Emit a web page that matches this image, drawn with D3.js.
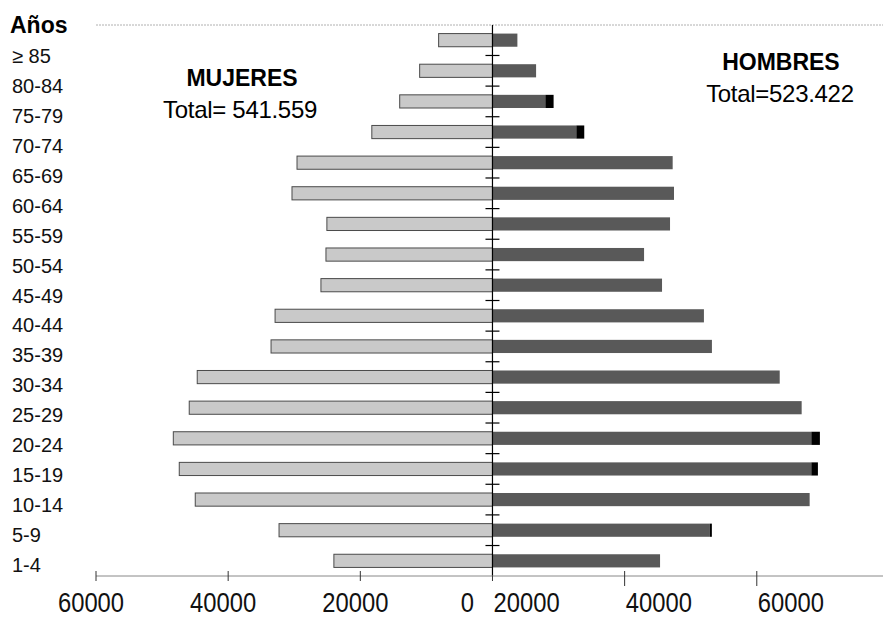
<!DOCTYPE html>
<html>
<head>
<meta charset="utf-8">
<script src="https://cdn.jsdelivr.net/npm/d3@7"></script>
<style>
  body { margin: 0; background: #fff; }
  svg { display: block; font-family: 'Liberation Sans', Arial, sans-serif; }
</style>
</head>
<body>
<svg id="chart"></svg>
<script>
const AGE_GROUPS = ['≥ 85', '80-84', '75-79', '70-74', '65-69', '60-64', '55-59', '50-54', '45-49',
  '40-44', '35-39', '30-34', '25-29', '20-24', '15-19', '10-14', '5-9', '1-4']
const MUJERES = [8150, 11020, 14040, 18260, 29580, 30340, 25060, 25200, 25960,
  32900, 33510, 44680, 45890, 48300, 47400, 44980, 32300, 24000]
const HOMBRES = [3770, 6600, 8000, 12690, 27270, 27470, 26870, 22940, 25660,
  32000, 33210, 43470, 46790, 48250, 48250, 48000, 32900, 25360]
const HOMBRES_EXTRA = [0, 0, 1250, 1200, 0, 0, 0, 0, 0, 0, 0, 0, 0, 1300, 1000, 0, 300, 0]
const X_TICKS = [-60000, -40000, -20000, 0, 20000, 40000, 60000]
const TITLES = [
  { side: -1, name: 'MUJERES', total: 'Total= 541.559' },
  { side: 1, name: 'HOMBRES', total: 'Total=523.422' }
]

const width = 883
const height = 619
const svg = d3.select('#chart').attr('width', width).attr('height', height)

const x = d3.scaleLinear().domain([-60000, 59100]).range([96, 883])
const y = d3.scaleBand().domain(AGE_GROUPS).range([25, 576]).paddingInner(0.57).paddingOuter(0.28)
// the category text column sits a little lower than the bars, as in the original
const yLabel = d3.scalePoint().domain(AGE_GROUPS).range([56, 565])
const x0 = x(0)

// top dotted frame line
svg.append('line')
  .attr('x1', x(-60000)).attr('x2', width)
  .attr('y1', 25).attr('y2', 25)
  .attr('stroke', '#b0b0b0').attr('stroke-dasharray', '2,1')

// women bars (left)
svg.append('g').selectAll('rect')
  .data(AGE_GROUPS)
  .enter()
  .append('rect')
  .attr('x', (d, i) => x(-MUJERES[i]))
  .attr('y', d => y(d))
  .attr('width', (d, i) => x0 - x(-MUJERES[i]))
  .attr('height', y.bandwidth())
  .attr('fill', '#c9c9c9')
  .attr('stroke', '#4a4a4a')
  .attr('stroke-width', 1)

// men bars (right)
svg.append('g').selectAll('rect')
  .data(AGE_GROUPS)
  .enter()
  .append('rect')
  .attr('x', x0)
  .attr('y', d => y(d))
  .attr('width', (d, i) => x(HOMBRES[i]) - x0)
  .attr('height', y.bandwidth())
  .attr('fill', '#595959')

svg.append('g').selectAll('rect')
  .data(AGE_GROUPS)
  .enter()
  .append('rect')
  .attr('x', (d, i) => x(HOMBRES[i]))
  .attr('y', d => y(d))
  .attr('width', (d, i) => x(HOMBRES[i] + HOMBRES_EXTRA[i]) - x(HOMBRES[i]))
  .attr('height', y.bandwidth())
  .attr('fill', '#000')

// central vertical axis with ticks between bars
svg.append('line')
  .attr('x1', x0).attr('x2', x0)
  .attr('y1', 25).attr('y2', 576)
  .attr('stroke', '#000').attr('stroke-width', 1.2)

const step = y.step()
svg.append('g').selectAll('line')
  .data(AGE_GROUPS.slice(1))
  .enter()
  .append('line')
  .attr('x1', x0 - 7).attr('x2', x0 + 7)
  .attr('y1', d => y(d) - (step - y.bandwidth()) / 2)
  .attr('y2', d => y(d) - (step - y.bandwidth()) / 2)
  .attr('stroke', '#000').attr('stroke-width', 1.2)

// category labels
svg.append('text')
  .attr('x', 10).attr('y', 33)
  .attr('font-size', 23).attr('font-weight', 'bold')
  .text('Años')

svg.append('g').selectAll('text')
  .data(AGE_GROUPS)
  .enter()
  .append('text')
  .attr('x', 12)
  .attr('y', d => yLabel(d) + 7)
  .attr('font-size', 20)
  .attr('fill', '#111')
  .text(d => d)

// bottom axis
svg.append('line')
  .attr('x1', x(-60000)).attr('x2', width)
  .attr('y1', 576).attr('y2', 576)
  .attr('stroke', '#888')

svg.append('g').selectAll('line')
  .data(X_TICKS.filter(d => x(d) < width))
  .enter()
  .append('line')
  .attr('x1', d => x(d)).attr('x2', d => x(d))
  .attr('y1', d => d === 0 ? 576 : 571).attr('y2', d => d > 0 ? 586 : 581)
  .attr('stroke', '#333')

// labels sit left of their ticks, as in the original
const labelShift = d => d < 0 ? -5 : (d === 0 ? -25 : -98)
svg.append('g').selectAll('text')
  .data(X_TICKS)
  .enter()
  .append('text')
  .attr('transform', d => `translate(${x(d) + labelShift(d)},612) scale(0.85,1)`)
  .attr('text-anchor', 'middle')
  .attr('font-size', 28)
  .attr('fill', '#111')
  .text(d => Math.abs(d))

// sex titles
TITLES.forEach(t => {
  const cx = t.side < 0 ? x(-38200) : x(43500)
  const top = t.side < 0 ? 86 : 70
  svg.append('text')
    .attr('x', cx + (t.side < 0 ? 2 : 1)).attr('y', top)
    .attr('text-anchor', 'middle')
    .attr('font-size', 23).attr('font-weight', 'bold')
    .text(t.name)
  svg.append('text')
    .attr('x', cx).attr('y', top + 32)
    .attr('text-anchor', 'middle')
    .attr('font-size', 24)
    .attr('letter-spacing', -0.3)
    .text(t.total)
})
</script>
</body>
</html>
